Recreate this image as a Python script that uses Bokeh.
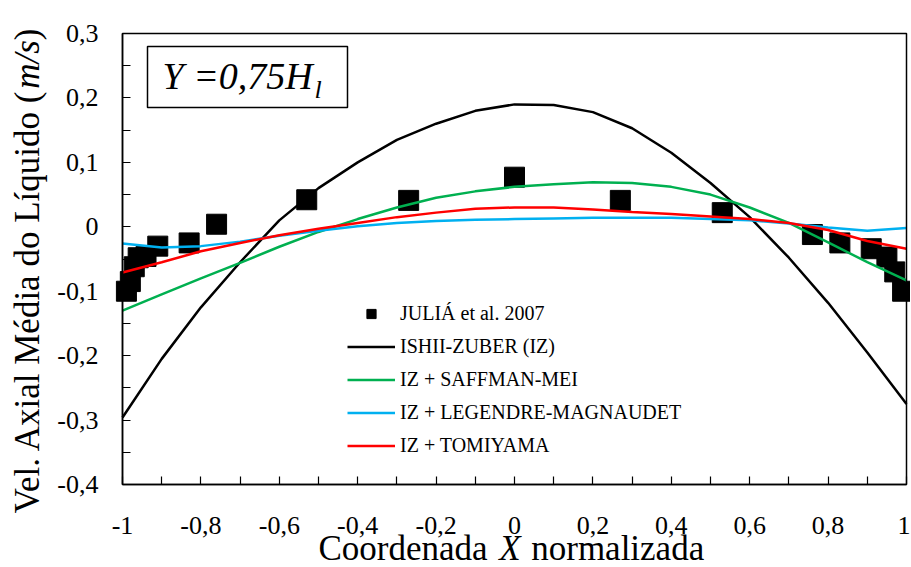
import math
from bokeh.plotting import figure
from bokeh.models import (Range1d, FixedTicker, Label, BoxAnnotation, Legend, LegendItem, LinearAxis)
from bokeh.embed import file_html
from bokeh.resources import INLINE

# ---------------- data ----------------
exp_x = [-0.99, -0.98, -0.97, -0.96, -0.94, -0.91, -0.83, -0.76, -0.53, -0.27, 0.0,
         0.27, 0.53, 0.76, 0.83, 0.91, 0.95, 0.97, 0.99]
exp_y = [-0.100, -0.085, -0.062, -0.048, -0.046, -0.030, -0.025, 0.004, 0.042, 0.041, 0.077,
         0.041, 0.022, -0.012, -0.025, -0.034, -0.047, -0.070, -0.100]

curve_x = [-1.0, -0.9, -0.8, -0.7, -0.6, -0.5, -0.4, -0.3, -0.2, -0.1, 0.0,
           0.1, 0.2, 0.3, 0.4, 0.5, 0.6, 0.7, 0.8, 0.9, 1.0]
ishii_zuber = [-0.296, -0.205, -0.125, -0.055, 0.010, 0.060, 0.100, 0.135, 0.160, 0.180, 0.190,
               0.189, 0.178, 0.153, 0.115, 0.068, 0.015, -0.048, -0.118, -0.195, -0.275]
saffman_mei = [-0.130, -0.105, -0.080, -0.056, -0.031, -0.008, 0.012, 0.030, 0.045, 0.055, 0.062,
               0.066, 0.069, 0.068, 0.062, 0.050, 0.030, 0.006, -0.024, -0.055, -0.083]
legendre_magnaudet = [-0.026, -0.032, -0.030, -0.023, -0.014, -0.006, 0.001, 0.006, 0.009, 0.011, 0.012,
                      0.013, 0.014, 0.014, 0.014, 0.012, 0.010, 0.005, -0.001, -0.006, -0.002]
tomiyama = [-0.071, -0.055, -0.038, -0.025, -0.013, -0.003, 0.006, 0.015, 0.022, 0.028, 0.030,
            0.030, 0.027, 0.023, 0.020, 0.016, 0.012, 0.006, -0.005, -0.022, -0.034]

x_ticks = [-1.0, -0.8, -0.6, -0.4, -0.2, 0.0, 0.2, 0.4, 0.6, 0.8, 1.0]
x_tick_labels = ["-1", "-0,8", "-0,6", "-0,4", "-0,2", "0", "0,2", "0,4", "0,6", "0,8", "1"]
x_minor = [-0.9, -0.7, -0.5, -0.3, -0.1, 0.1, 0.3, 0.5, 0.7, 0.9]
y_ticks = [0.3, 0.2, 0.1, 0.0, -0.1, -0.2, -0.3, -0.4]
y_tick_labels = ["0,3", "0,2", "0,1", "0", "-0,1", "-0,2", "-0,3", "-0,4"]
y_minor = [0.25, 0.15, 0.05, -0.05, -0.15, -0.25, -0.35]
x_lim = (-1.0, 1.0)
y_lim = (-0.4, 0.3)

series_names = ["JULIÁ et al. 2007", "ISHII-ZUBER (IZ)", "IZ + SAFFMAN-MEI",
                "IZ + LEGENDRE-MAGNAUDET", "IZ + TOMIYAMA"]

SERIF = "Liberation Serif"
W, H = 910, 566

# page pixel -> data (plot box: x -1 at 122, 1 at 906; y 0.3 at 33, -0.4 at 484)
def dx(px):
    return -1 + (px - 122) / 392.0

def dy(py):
    return (226.3 - py) / 644.3

# Bokeh draws an "alphabetic" anchored label about 0.3 em lower than the anchor
def base_fix(fs):
    return 0.3 * fs

p = figure(width=W, height=H, output_backend="svg", toolbar_location=None, title=None,
           x_range=Range1d(dx(0), dx(W)), y_range=Range1d(dy(H), dy(0)),
           x_axis_location=None, y_axis_location=None, min_border=0)
p.background_fill_color = "white"
p.border_fill_color = "white"
p.outline_line_color = None
p.xgrid.visible = False
p.ygrid.visible = False

xaxis = LinearAxis(fixed_location=y_lim[0], bounds=x_lim,
                   ticker=FixedTicker(ticks=x_ticks, minor_ticks=x_minor),
                   major_label_overrides={t: l for t, l in zip(x_ticks, x_tick_labels)})
yaxis = LinearAxis(fixed_location=x_lim[0], bounds=y_lim,
                   ticker=FixedTicker(ticks=y_ticks, minor_ticks=y_minor),
                   major_label_overrides={t: l for t, l in zip(y_ticks, y_tick_labels)})
for ax in (xaxis, yaxis):
    ax.major_tick_in = 8
    ax.major_tick_out = 0
    ax.minor_tick_in = 8
    ax.minor_tick_out = 0
    ax.axis_line_width = 1.5
    ax.major_tick_line_width = 1.2
    ax.minor_tick_line_width = 1.2
    ax.major_label_text_font = SERIF
    ax.major_label_text_font_size = "26px"
    ax.major_label_text_color = "black"
xaxis.major_label_standoff = 32
yaxis.major_label_standoff = 24
p.add_layout(xaxis, "below")
p.add_layout(yaxis, "left")

# plot box (top / right edges)
p.add_layout(BoxAnnotation(left=x_lim[0], right=x_lim[1], bottom=y_lim[0], top=y_lim[1],
                           fill_alpha=0, line_color="black", line_alpha=1, line_width=1.5))

r_ex = p.scatter(exp_x, exp_y, marker="square", size=20, color="black")
r_iz = p.line(curve_x, ishii_zuber, line_color="black", line_width=2.5)
r_sm = p.line(curve_x, saffman_mei, line_color="#00b050", line_width=2.5)
r_lm = p.line(curve_x, legendre_magnaudet, line_color="#00b0f0", line_width=2.5)
r_tm = p.line(curve_x, tomiyama, line_color="#ff0000", line_width=2.5)

legend = Legend(items=[LegendItem(label=n, renderers=[r]) for n, r in
                       zip(series_names, [r_ex, r_iz, r_sm, r_lm, r_tm])],
                location=(347, H - 462), border_line_color=None, background_fill_alpha=0,
                padding=0, margin=0, spacing=0, label_height=33, glyph_height=23,
                glyph_width=48, label_standoff=5, label_text_font=SERIF,
                label_text_font_size="20px", label_text_color="black")
p.add_layout(legend)

# "Y = 0,75 H_l" box
p.add_layout(BoxAnnotation(left=dx(147), right=dx(347), top=dy(46), bottom=dy(107),
                           fill_alpha=0, line_color="black", line_alpha=1, line_width=1.5))
p.add_layout(Label(x=dx(162), y=dy(87 - base_fix(38)), text="Y =0,75H", text_font=SERIF,
                   text_font_style="italic", text_font_size="38px", text_color="black",
                   text_baseline="alphabetic", text_align="left"))
p.add_layout(Label(x=dx(314), y=dy(97 - base_fix(26)), text="l", text_font=SERIF,
                   text_font_style="italic", text_font_size="26px", text_color="black",
                   text_baseline="alphabetic", text_align="left"))

# x-axis title
fs = 35
x0 = 318
x1 = x0 + 5.081 * fs + 3
x2 = x1 + (0.611 + 0.3) * fs
for txt, xx, style in [("Coordenada", x0, "normal"), ("X", x1, "italic"), ("normalizada", x2, "normal")]:
    p.add_layout(Label(x=dx(xx), y=dy(558 - base_fix(fs)), text=txt, text_font=SERIF,
                       text_font_style=style, text_font_size=f"{fs}px", text_color="black",
                       text_baseline="alphabetic", text_align="left"))

# y-axis title (rotated)
fy = 35
y0 = 513
y1 = y0 - 12.221 * fy + 3
y2 = y1 - 1.389 * fy
for txt, yy, style in [("Vel. Axial Média do Líquido (", y0, "normal"), ("m/s", y1, "italic"), (")", y2, "normal")]:
    p.add_layout(Label(x=dx(37 - base_fix(fy)), y=dy(yy), text=txt, text_font=SERIF,
                       text_font_style=style, text_font_size=f"{fy}px", text_color="black",
                       angle=math.pi / 2, text_baseline="alphabetic", text_align="left"))

open("out.html", "w").write(file_html(p, INLINE))
